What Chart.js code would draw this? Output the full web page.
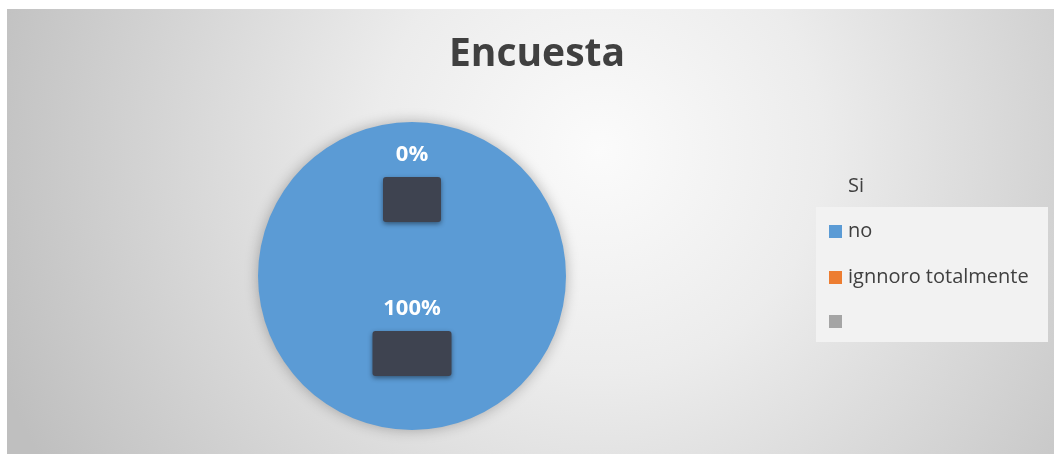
<!DOCTYPE html>
<html>
<head>
<meta charset="utf-8">
<title>Encuesta</title>
<script src="https://cdn.jsdelivr.net/npm/chart.js@4.4.1/dist/chart.umd.min.js"></script>
<style>
  html, body { margin: 0; padding: 0; background: #fff; }
  #wrap { width: 1054px; height: 454px; }
</style>
</head>
<body>
<div id="wrap"><canvas id="chart" width="1054" height="454"></canvas></div>
<script>
// --- data ---
const chartTitle = 'Encuesta';
const categories = ['Si', 'no', 'ignnoro totalmente', ''];
const answers = [0, 100, null, null];
const sliceColors = ['rgba(0,0,0,0)', '#5b9bd5', '#ed7d31', '#a5a5a5'];

// background, title, custom legend and data labels
const excelLook = {
  id: 'excelLook',
  beforeDraw(chart) {
    const ctx = chart.ctx;
    ctx.save();
    const g = ctx.createRadialGradient(600, 150, 0, 600, 150, 640);
    g.addColorStop(0, '#fbfbfb');
    g.addColorStop(0.35, '#ececec');
    g.addColorStop(1, '#bfbfbf');
    ctx.fillStyle = g;
    ctx.fillRect(7, 9, chart.width - 7, chart.height - 9);

    // title
    ctx.fillStyle = '#404040';
    ctx.font = 'bold 39px "Open Sans", sans-serif';
    ctx.textAlign = 'center';
    ctx.textBaseline = 'middle';
    ctx.fillText(chartTitle, 537, 55);

    // legend
    ctx.fillStyle = '#f2f2f2';
    ctx.fillRect(816, 207, 232, 135);
    ctx.font = '20px "Open Sans", sans-serif';
    ctx.textAlign = 'left';
    const rowY = [186, 231, 277, 321];
    categories.forEach((c, i) => {
      if (i > 0) {
        ctx.fillStyle = sliceColors[i];
        ctx.fillRect(829, rowY[i] - 6, 13, 13);
      }
      ctx.fillStyle = '#404040';
      ctx.fillText(c, 848, rowY[i]);
    });
    ctx.restore();
  },
  beforeDatasetsDraw(chart) {
    const ctx = chart.ctx;
    ctx.save();
    ctx.shadowColor = 'rgba(0,0,0,0.28)';
    ctx.shadowBlur = 14;
  },
  afterDatasetsDraw(chart) {
    const ctx = chart.ctx;
    ctx.restore();
    const meta = chart.getDatasetMeta(0);
    const total = answers.reduce((a, b) => a + (b || 0), 0);
    meta.data.forEach((arc, i) => {
      const v = answers[i];
      if (v === null || v === undefined) return;
      const pos = arc.tooltipPosition();
      const pct = Math.round(v / total * 100) + '%';
      const w = pct.length > 3 ? 79 : 58;
      ctx.save();
      ctx.shadowColor = 'rgba(0,0,0,0.45)';
      ctx.shadowBlur = 5;
      ctx.shadowOffsetY = 2;
      ctx.fillStyle = '#3e4350';
      ctx.beginPath();
      ctx.roundRect(pos.x - w / 2, pos.y - 22, w, 45, 3);
      ctx.fill();
      ctx.restore();
      ctx.save();
      ctx.fillStyle = '#ffffff';
      ctx.font = 'bold 22px "Open Sans", sans-serif';
      ctx.textAlign = 'center';
      ctx.textBaseline = 'middle';
      ctx.fillText(pct, pos.x, pos.y - 44);
      ctx.restore();
    });
  }
};

new Chart(document.getElementById('chart'), {
  type: 'pie',
  data: {
    labels: categories,
    datasets: [{
      data: answers,
      backgroundColor: sliceColors,
      borderWidth: 0
    }]
  },
  options: {
    responsive: false,
    animation: false,
    events: [],
    layout: { padding: { left: 258, right: 488, top: 122, bottom: 24 } },
    plugins: {
      legend: { display: false },
      title: { display: false },
      tooltip: { enabled: false }
    }
  },
  plugins: [excelLook]
});
</script>
</body>
</html>
